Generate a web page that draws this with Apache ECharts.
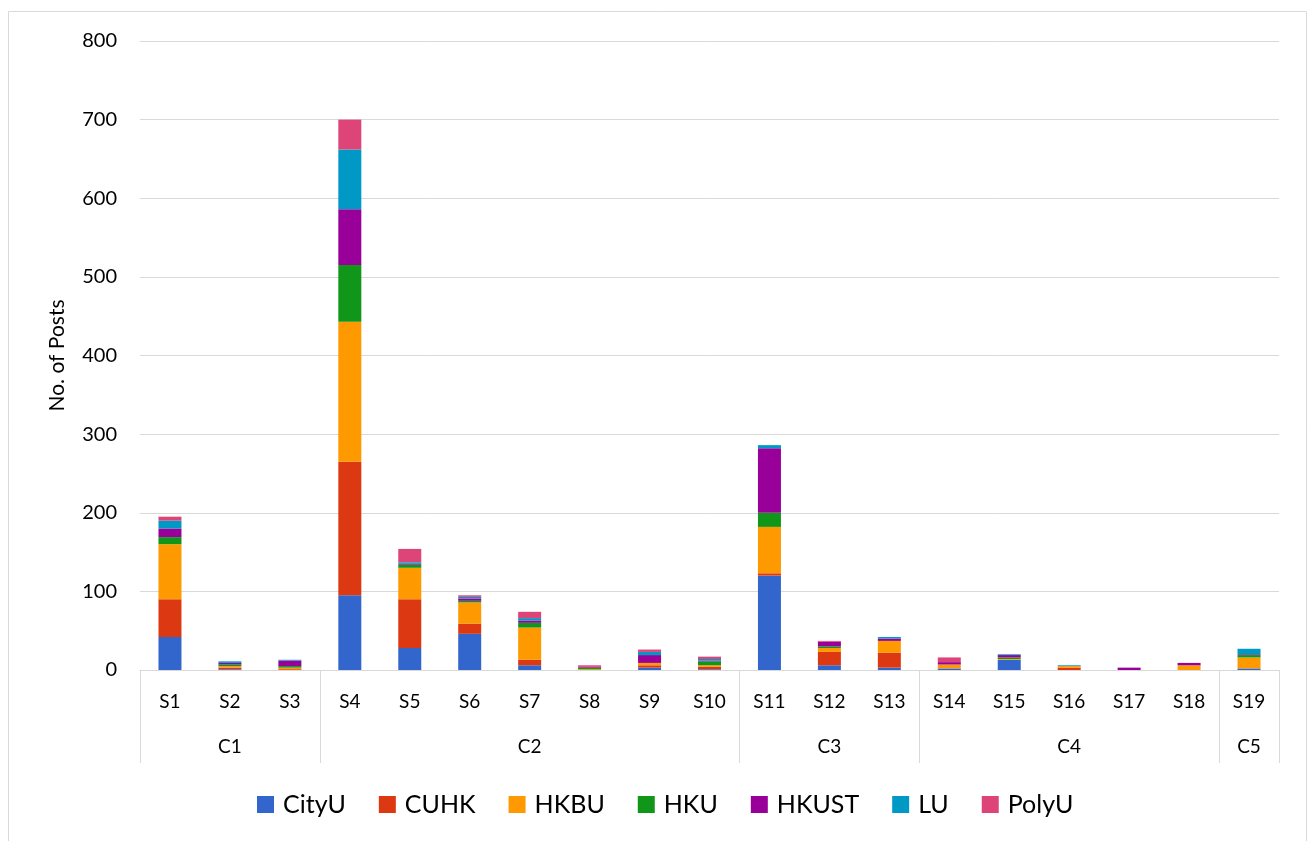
<!DOCTYPE html>
<html>
<head>
<meta charset="utf-8">
<script src="https://cdn.jsdelivr.net/npm/echarts@6/dist/echarts.min.js"></script>
<style>
html,body{margin:0;padding:0;background:#fff;}
#chart{width:1309px;height:841px;}
</style>
</head>
<body>
<div id="chart"></div>
<script>
const categories = ['S1','S2','S3','S4','S5','S6','S7','S8','S9','S10','S11','S12','S13','S14','S15','S16','S17','S18','S19'];
const groupNames = ['C1','C2','C3','C4','C5'];
const groupSizes = [3,7,3,5,1];
const seriesNames = ['CityU','CUHK','HKBU','HKU','HKUST','LU','PolyU'];
const cityU = [42,1,0,95,28,46,6,0,3,1,120,6,3,2,13,0,0,0,2];
const cuhk  = [48,2,1,170,62,13,7,0,3,3,3,17,19,0,0,3,0,0,0];
const hkbu  = [70,2,2,178,40,27,41,1,3,2,59,5,15,5,1,2,0,6,14];
const hku   = [9,2,2,72,4,2,6,2,0,5,18,2,0,0,2,0,0,0,3];
const hkust = [11,2,7,71,1,3,3,1,10,1,82,6,3,3,3,0,3,3,1];
const lu    = [10,2,1,76,2,2,3,0,4,2,4,0,2,0,1,1,0,0,7];
const polyU = [5,0,0,38,17,2,8,2,3,3,0,1,0,6,0,0,0,0,0];
const yTicks = [0,100,200,300,400,500,600,700,800];

const seriesData = [cityU, cuhk, hkbu, hku, hkust, lu, polyU];
const colors = ['#3366cc','#dc3912','#ff9900','#109618','#990099','#0099c6','#dd4477'];

// group label row and separator positions
const groupRow = categories.map(() => '');
const boundaries = [];
let start = 0;
groupSizes.forEach((n, i) => {
  boundaries.push(start);
  groupRow[start + Math.floor(n / 2)] = groupNames[i];
  start += n;
});

const FONT = 'Lato, "Liberation Sans", sans-serif';
const chart = echarts.init(document.getElementById('chart'));
chart.setOption({
  animation: false,
  color: colors,
  textStyle: { fontFamily: FONT, color: '#000' },
  graphic: [{
    type: 'rect', silent: true,
    shape: { x: 8.5, y: 11.5, width: 1298, height: 900 },
    style: { fill: 'none', stroke: '#d9d9d9', lineWidth: 1 }
  }],
  grid: { left: 140, right: 30, top: 41, bottom: 171, containLabel: false },
  legend: {
    data: seriesNames,
    top: 787,
    left: 252,
    icon: 'rect',
    itemWidth: 17,
    itemHeight: 17,
    itemGap: 33,
    textStyle: { fontFamily: FONT, fontSize: 25, color: '#000', padding: [0, 0, 0, 4] }
  },
  xAxis: [{
    type: 'category',
    data: categories,
    position: 'bottom',
    axisLine: { show: true, lineStyle: { color: '#d9d9d9', width: 1 } },
    axisTick: {
      show: true, length: 93,
      interval: (idx) => boundaries.indexOf(idx) >= 0,
      lineStyle: { color: '#d9d9d9', width: 1 }
    },
    axisLabel: { interval: 0, margin: 22, fontSize: 19, color: '#000', fontFamily: FONT },
    splitLine: { show: false }
  }, {
    type: 'category',
    data: groupRow,
    position: 'bottom',
    axisLine: { show: false },
    axisTick: { show: false },
    axisLabel: { interval: 0, margin: 67, fontSize: 19, color: '#000', fontFamily: FONT },
    splitLine: { show: false }
  }],
  yAxis: {
    type: 'value',
    min: yTicks[0],
    max: yTicks[yTicks.length - 1],
    interval: yTicks[1] - yTicks[0],
    name: 'No. of Posts',
    nameLocation: 'middle',
    nameGap: 72,
    nameRotate: 90,
    nameTextStyle: { fontSize: 21, color: '#000', fontFamily: FONT },
    axisLine: { show: false },
    axisTick: { show: false },
    axisLabel: { margin: 23, fontSize: 20, color: '#000', fontFamily: FONT },
    splitLine: { lineStyle: { color: '#d9d9d9', width: 1 } }
  },
  series: seriesNames.map((name, i) => ({
    name: name,
    type: 'bar',
    stack: 'total',
    xAxisIndex: 0,
    barWidth: 23,
    itemStyle: { color: colors[i] },
    data: seriesData[i]
  }))
});
</script>
</body>
</html>
